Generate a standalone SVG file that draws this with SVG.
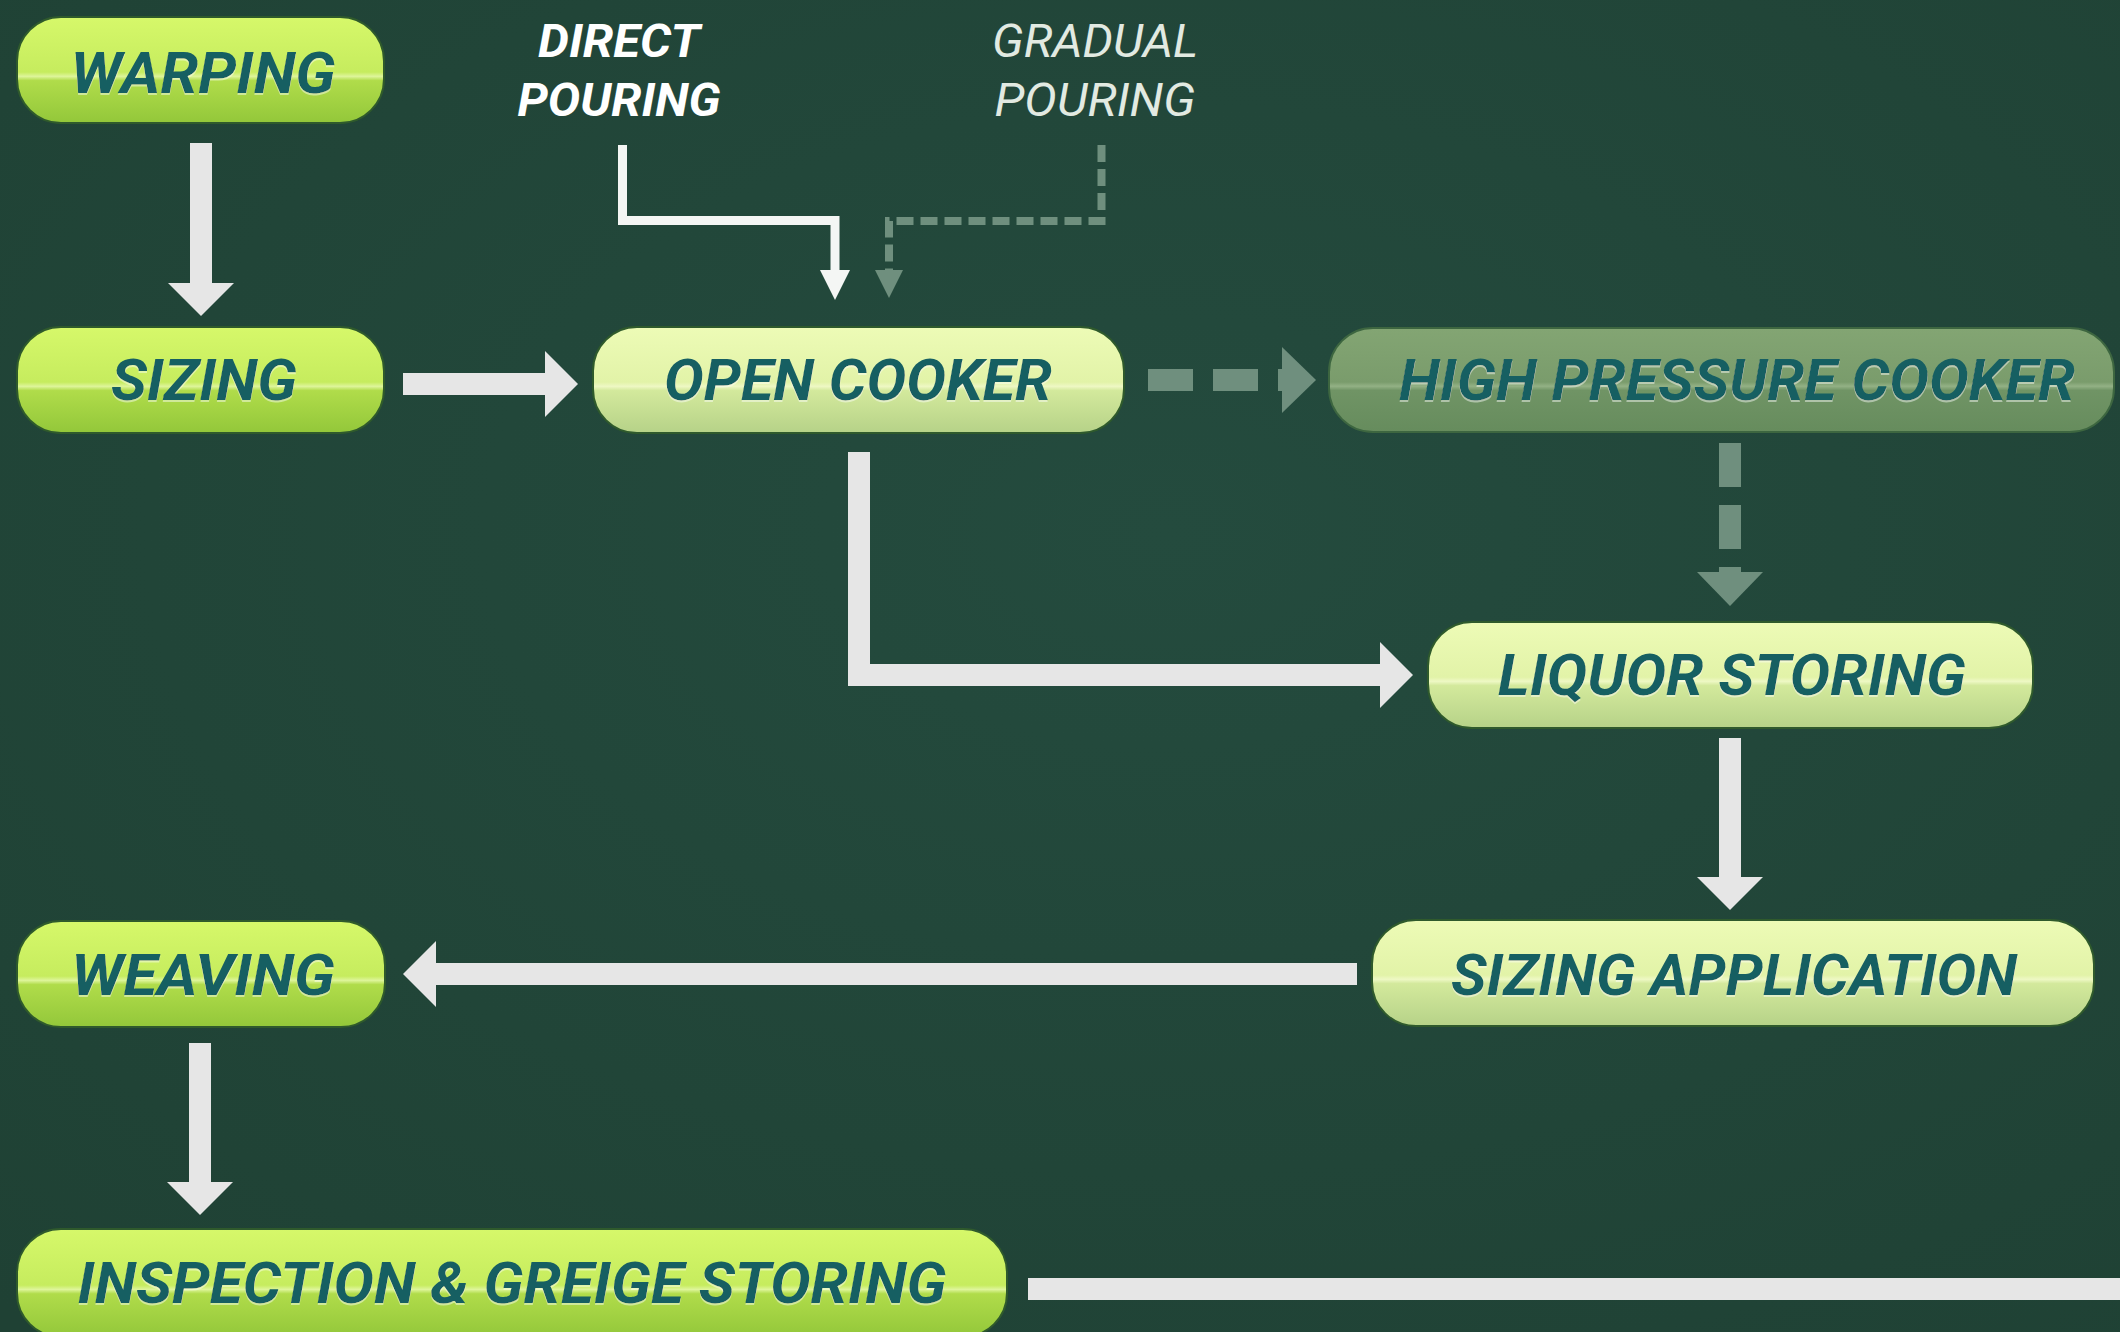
<svg xmlns="http://www.w3.org/2000/svg" width="2120" height="1332" viewBox="0 0 2120 1332">
  <defs>
    <radialGradient id="bg" cx="0.55" cy="0.4" r="0.8">
      <stop offset="0" stop-color="#244b3e"/>
      <stop offset="1" stop-color="#1f4134"/>
    </radialGradient>
    <linearGradient id="gBright" x1="0" y1="0" x2="0" y2="1">
      <stop offset="0" stop-color="#d6f86a"/>
      <stop offset="0.52" stop-color="#c6ec5e"/>
      <stop offset="0.56" stop-color="#def59a"/>
      <stop offset="0.6" stop-color="#b0dc4a"/>
      <stop offset="1" stop-color="#93c73a"/>
    </linearGradient>
    <linearGradient id="gPale" x1="0" y1="0" x2="0" y2="1">
      <stop offset="0" stop-color="#edfbb6"/>
      <stop offset="0.52" stop-color="#e2f3a8"/>
      <stop offset="0.56" stop-color="#eef8c4"/>
      <stop offset="0.6" stop-color="#d3e99c"/>
      <stop offset="1" stop-color="#b6d288"/>
    </linearGradient>
    <linearGradient id="gMuted" x1="0" y1="0" x2="0" y2="1">
      <stop offset="0" stop-color="#83a573"/>
      <stop offset="0.52" stop-color="#7a9c6c"/>
      <stop offset="0.56" stop-color="#93b185"/>
      <stop offset="0.6" stop-color="#709465"/>
      <stop offset="1" stop-color="#668c5d"/>
    </linearGradient>
    <filter id="emb" x="-5%" y="-20%" width="110%" height="150%">
      <feDropShadow dx="0" dy="2" stdDeviation="0.6" flood-color="#ffffff" flood-opacity="0.45"/>
    </filter>
    <marker id="headBig" markerUnits="userSpaceOnUse" viewBox="0 0 33 66" refX="1" refY="33" markerWidth="33" markerHeight="66" orient="auto">
      <path d="M0 0 L33 33 L0 66 Z" fill="#e6e6e6"/>
    </marker>
    <marker id="headDash" markerUnits="userSpaceOnUse" viewBox="0 0 34 66" refX="1" refY="33" markerWidth="34" markerHeight="66" orient="auto">
      <path d="M0 0 L34 33 L0 66 Z" fill="#6f8f7e"/>
    </marker>
    <marker id="headThin" markerUnits="userSpaceOnUse" viewBox="0 0 30 30" refX="1" refY="15" markerWidth="30" markerHeight="30" orient="auto">
      <path d="M0 0 L30 15 L0 30 Z" fill="#f4f6f4"/>
    </marker>
    <marker id="headThinDash" markerUnits="userSpaceOnUse" viewBox="0 0 28 28" refX="1" refY="14" markerWidth="28" markerHeight="28" orient="auto">
      <path d="M0 0 L28 14 L0 28 Z" fill="#6f8f7e"/>
    </marker>
  </defs>
  <style>
    .pill { stroke: #2f5a2c; stroke-width: 2; }
    .bright { fill: url(#gBright); }
    .pale { fill: url(#gPale); }
    .muted { fill: url(#gMuted); stroke: #3d6640; }
    .nt { font-family: Roboto, "Liberation Sans", sans-serif; font-weight: 700; font-style: italic; font-size: 57px; fill: #155f62; text-anchor: middle; filter: url(#emb); }
    .lab { font-family: Roboto, "Liberation Sans", sans-serif; font-style: italic; font-size: 46px; text-anchor: middle; }
    .big { fill: none; stroke: #e6e6e6; stroke-width: 22; stroke-linejoin: miter; }
    .bigdash { fill: none; stroke: #6f8f7e; stroke-width: 22; }
    .thin { fill: none; stroke: #f4f6f4; stroke-width: 9; stroke-linejoin: miter; }
    .thindash { fill: none; stroke: #6f8f7e; stroke-width: 8; stroke-dasharray: 17 7; }
  </style>
  <rect width="2120" height="1332" fill="url(#bg)"/>

  <g id="labels">
    <text class="lab" x="619" y="57" font-weight="700" fill="#ffffff" textLength="162" lengthAdjust="spacingAndGlyphs">DIRECT</text>
    <text class="lab" x="619" y="116" font-weight="700" fill="#ffffff" textLength="203" lengthAdjust="spacingAndGlyphs">POURING</text>
    <text class="lab" x="1095" y="57" font-weight="400" fill="#e2eae2" textLength="206" lengthAdjust="spacingAndGlyphs">GRADUAL</text>
    <text class="lab" x="1095" y="116" font-weight="400" fill="#e2eae2" textLength="201" lengthAdjust="spacingAndGlyphs">POURING</text>
  </g>

  <g id="connectors">
    <path class="big" d="M201 143 V284" marker-end="url(#headBig)"/>
    <path class="big" d="M403 384 H546" marker-end="url(#headBig)"/>
    <path class="big" d="M859 452 V675 H1381" marker-end="url(#headBig)"/>
    <path class="big" d="M1730 738 V878" marker-end="url(#headBig)"/>
    <path class="big" d="M1357 974 H435" marker-end="url(#headBig)"/>
    <path class="big" d="M200 1043 V1183" marker-end="url(#headBig)"/>
    <path class="big" d="M1028 1289 H2120"/>
    <path class="bigdash" d="M1148 380 H1283" stroke-dasharray="45 20" marker-end="url(#headDash)"/>
    <path class="bigdash" d="M1730 443 V573" stroke-dasharray="44 18" marker-end="url(#headDash)"/>
    <path class="thin" d="M622.5 145 V220.5 H835 V271" marker-end="url(#headThin)"/>
    <path class="thindash" d="M1101.5 145 V221 H889 V271" marker-end="url(#headThinDash)"/>
  </g>

  <g id="warping">
    <rect class="pill bright" x="17" y="17" width="367" height="106" rx="44"/>
    <text class="nt" x="203" y="93" textLength="265" lengthAdjust="spacingAndGlyphs">WARPING</text>
  </g>
  <g id="sizing">
    <rect class="pill bright" x="17" y="327" width="367" height="106" rx="44"/>
    <text class="nt" x="204" y="400" textLength="186" lengthAdjust="spacingAndGlyphs">SIZING</text>
  </g>
  <g id="open-cooker">
    <rect class="pill pale" x="593" y="327" width="531" height="106" rx="44"/>
    <text class="nt" x="858" y="400" textLength="388" lengthAdjust="spacingAndGlyphs">OPEN COOKER</text>
  </g>
  <g id="high-pressure-cooker">
    <rect class="pill muted" x="1329" y="328" width="785" height="104" rx="44"/>
    <text class="nt" x="1737" y="400" textLength="676" lengthAdjust="spacingAndGlyphs">HIGH PRESSURE COOKER</text>
  </g>
  <g id="liquor-storing">
    <rect class="pill pale" x="1428" y="622" width="605" height="106" rx="44"/>
    <text class="nt" x="1732" y="695" textLength="468" lengthAdjust="spacingAndGlyphs">LIQUOR STORING</text>
  </g>
  <g id="sizing-application">
    <rect class="pill pale" x="1372" y="920" width="722" height="106" rx="44"/>
    <text class="nt" x="1734" y="995" textLength="566" lengthAdjust="spacingAndGlyphs">SIZING APPLICATION</text>
  </g>
  <g id="weaving">
    <rect class="pill bright" x="17" y="921" width="368" height="106" rx="44"/>
    <text class="nt" x="203" y="995" textLength="264" lengthAdjust="spacingAndGlyphs">WEAVING</text>
  </g>
  <g id="inspection">
    <rect class="pill bright" x="17" y="1229" width="990" height="108" rx="44"/>
    <text class="nt" x="512" y="1303" textLength="869" lengthAdjust="spacingAndGlyphs">INSPECTION &amp; GREIGE STORING</text>
  </g>
</svg>
